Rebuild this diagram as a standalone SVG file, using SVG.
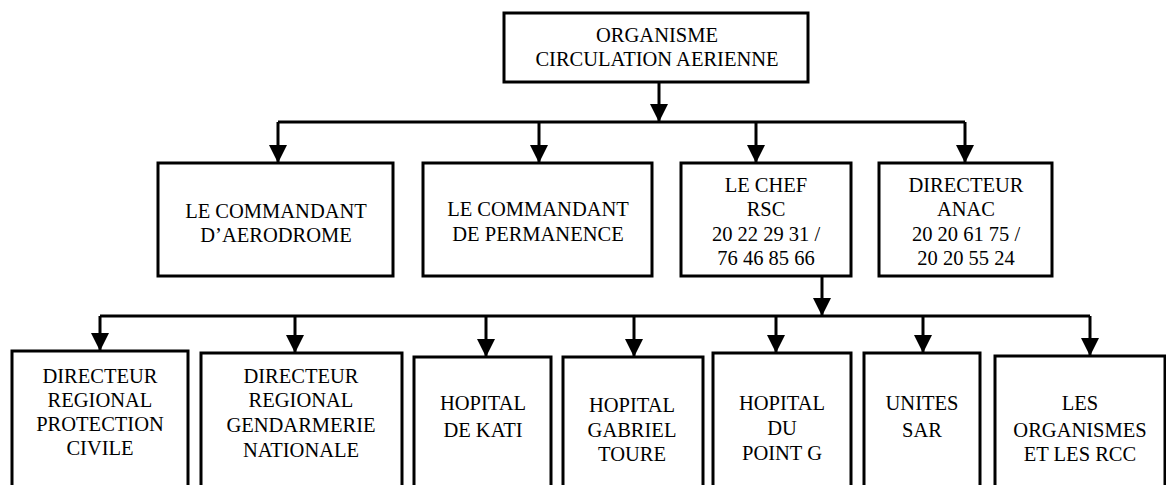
<svg xmlns="http://www.w3.org/2000/svg" width="1166" height="485" viewBox="0 0 1166 485">
<defs>
<marker id="ah" markerUnits="userSpaceOnUse" markerWidth="18" markerHeight="18" viewBox="0 0 16 16" refX="16" refY="8" orient="auto">
<path d="M0,0 L16,8 L0,16 Z" fill="#000"/>
</marker>
</defs>
<style>
.box{fill:#fff;stroke:#000;stroke-width:3}
.ln{fill:none;stroke:#000;stroke-width:3}
.ar{fill:none;stroke:#000;stroke-width:3;marker-end:url(#ah)}
</style>
<rect width="1166" height="485" fill="#fff"/>
<g id="connectors">
<line class="ar" x1="659" y1="82" x2="659" y2="122"/>
<line class="ln" x1="278" y1="122" x2="965" y2="122"/>
<line class="ar" x1="278" y1="122" x2="278" y2="163"/>
<line class="ar" x1="539" y1="122" x2="539" y2="163"/>
<line class="ar" x1="756" y1="122" x2="756" y2="163"/>
<line class="ar" x1="965" y1="122" x2="965" y2="163"/>
<line class="ar" x1="822" y1="276" x2="822" y2="316"/>
<line class="ln" x1="100" y1="316" x2="1090" y2="316"/>
<line class="ar" x1="100" y1="316" x2="100" y2="351"/>
<line class="ar" x1="295" y1="316" x2="295" y2="353"/>
<line class="ar" x1="486" y1="316" x2="486" y2="357"/>
<line class="ar" x1="634" y1="316" x2="634" y2="357"/>
<line class="ar" x1="776" y1="316" x2="776" y2="353"/>
<line class="ar" x1="923" y1="316" x2="923" y2="353"/>
<line class="ar" x1="1090" y1="316" x2="1090" y2="356"/>
</g>
<g font-family="Liberation Serif" font-size="20.5" text-anchor="middle" fill="#000" style="font-family:'Liberation Serif','DejaVu Serif',serif">
<g id="organisme">
<rect class="box" x="504" y="13" width="304" height="69"/>
<text x="657" y="42">ORGANISME</text>
<text x="657" y="66">CIRCULATION AERIENNE</text>
</g>
<g id="cmd-aerodrome">
<rect class="box" x="158" y="163" width="235" height="113"/>
<text x="276" y="218">LE COMMANDANT</text>
<text x="276" y="242">D’AERODROME</text>
</g>
<g id="cmd-permanence">
<rect class="box" x="423" y="163" width="229" height="113"/>
<text x="538" y="216">LE COMMANDANT</text>
<text x="538" y="241">DE PERMANENCE</text>
</g>
<g id="chef-rsc">
<rect class="box" x="681" y="163" width="170" height="113"/>
<text x="766" y="192">LE CHEF</text>
<text x="766" y="216">RSC</text>
<text x="766" y="241">20 22 29 31 /</text>
<text x="766" y="265">76 46 85 66</text>
</g>
<g id="directeur-anac">
<rect class="box" x="879" y="163" width="173" height="113"/>
<text x="966" y="192">DIRECTEUR</text>
<text x="966" y="216">ANAC</text>
<text x="966" y="241">20 20 61 75 /</text>
<text x="966" y="265">20 20 55 24</text>
</g>
<g id="protection-civile">
<rect class="box" x="12" y="351" width="176" height="140"/>
<text x="100" y="383">DIRECTEUR</text>
<text x="100" y="407">REGIONAL</text>
<text x="100" y="431">PROTECTION</text>
<text x="100" y="455">CIVILE</text>
</g>
<g id="gendarmerie">
<rect class="box" x="201" y="353" width="201" height="140"/>
<text x="301" y="383">DIRECTEUR</text>
<text x="301" y="407">REGIONAL</text>
<text x="301" y="432">GENDARMERIE</text>
<text x="301" y="457">NATIONALE</text>
</g>
<g id="hopital-kati">
<rect class="box" x="414" y="357" width="137" height="140"/>
<text x="483" y="410">HOPITAL</text>
<text x="483" y="437">DE KATI</text>
</g>
<g id="hopital-gabriel-toure">
<rect class="box" x="563" y="357" width="140" height="140"/>
<text x="632" y="412">HOPITAL</text>
<text x="632" y="437">GABRIEL</text>
<text x="632" y="461">TOURE</text>
</g>
<g id="hopital-point-g">
<rect class="box" x="713" y="353" width="138" height="140"/>
<text x="782" y="410">HOPITAL</text>
<text x="782" y="435">DU</text>
<text x="782" y="460">POINT G</text>
</g>
<g id="unites-sar">
<rect class="box" x="864" y="353" width="116" height="140"/>
<text x="922" y="410">UNITES</text>
<text x="922" y="437">SAR</text>
</g>
<g id="organismes-rcc">
<rect class="box" x="995" y="356" width="170" height="140"/>
<text x="1080" y="410">LES</text>
<text x="1080" y="437">ORGANISMES</text>
<text x="1080" y="461">ET LES RCC</text>
</g>
</g>
</svg>
